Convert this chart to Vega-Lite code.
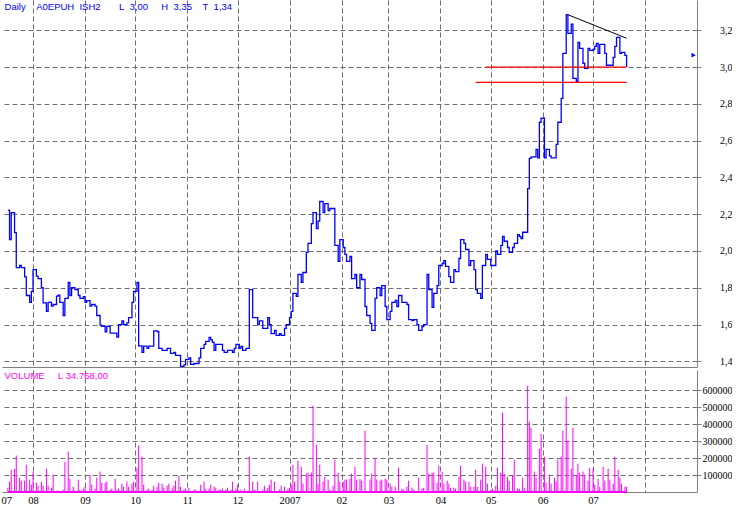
{
  "$schema": "https://vega.github.io/schema/vega-lite/v6.json",
  "padding": 0,
  "background": "white",
  "spacing": 0,
  "config": {
    "view": {"stroke": null},
    "axis": {
      "gridColor": "#6e6e6e", "gridDash": [5, 3], "gridWidth": 1,
      "domainColor": "#808080", "tickColor": "#808080",
      "labelFont": "Liberation Serif", "labelFontSize": 10, "labelColor": "#000000",
      "title": null
    }
  },
  "datasets": {
    "price": [
      {"date":"2006-07-17","close":2.222},{"date":"2006-07-18","close":2.062},{"date":"2006-07-19","close":2.209},{"date":"2006-07-21","close":2.10},{"date":"2006-07-22","close":1.91},{"date":"2006-07-24","close":1.921},{"date":"2006-07-25","close":1.91},{"date":"2006-07-27","close":1.859},{"date":"2006-07-28","close":1.758},{"date":"2006-07-30","close":1.72},{"date":"2006-07-31","close":1.78},
      {"date":"2006-08-01","close":1.899},{"date":"2006-08-03","close":1.863},{"date":"2006-08-04","close":1.85},{"date":"2006-08-06","close":1.80},{"date":"2006-08-07","close":1.718},{"date":"2006-08-09","close":1.671},{"date":"2006-08-10","close":1.72},{"date":"2006-08-12","close":1.70},{"date":"2006-08-13","close":1.709},{"date":"2006-08-15","close":1.754},{"date":"2006-08-16","close":1.76},{"date":"2006-08-17","close":1.72},{"date":"2006-08-19","close":1.649},{"date":"2006-08-20","close":1.742},{"date":"2006-08-22","close":1.829},{"date":"2006-08-23","close":1.758},{"date":"2006-08-24","close":1.80},{"date":"2006-08-26","close":1.79},{"date":"2006-08-28","close":1.758},{"date":"2006-08-29","close":1.742},{"date":"2006-08-31","close":1.752},
      {"date":"2006-09-01","close":1.72},{"date":"2006-09-02","close":1.73},{"date":"2006-09-04","close":1.70},{"date":"2006-09-05","close":1.709},{"date":"2006-09-07","close":1.70},{"date":"2006-09-08","close":1.649},{"date":"2006-09-10","close":1.597},{"date":"2006-09-11","close":1.59},{"date":"2006-09-13","close":1.56},{"date":"2006-09-14","close":1.59},{"date":"2006-09-16","close":1.553},{"date":"2006-09-20","close":1.531},{"date":"2006-09-21","close":1.60},{"date":"2006-09-23","close":1.62},{"date":"2006-09-24","close":1.60},{"date":"2006-09-26","close":1.609},{"date":"2006-09-27","close":1.638},{"date":"2006-09-29","close":1.72},{"date":"2006-09-30","close":1.78},
      {"date":"2006-10-02","close":1.829},{"date":"2006-10-03","close":1.484},{"date":"2006-10-05","close":1.448},{"date":"2006-10-06","close":1.483},{"date":"2006-10-08","close":1.47},{"date":"2006-10-09","close":1.483},{"date":"2006-10-12","close":1.566},{"date":"2006-10-14","close":1.562},{"date":"2006-10-15","close":1.47},{"date":"2006-10-17","close":1.459},{"date":"2006-10-20","close":1.47},{"date":"2006-10-22","close":1.443},{"date":"2006-10-24","close":1.448},{"date":"2006-10-25","close":1.432},{"date":"2006-10-28","close":1.372},{"date":"2006-10-30","close":1.381},{"date":"2006-10-31","close":1.41},
      {"date":"2006-11-02","close":1.419},{"date":"2006-11-03","close":1.383},{"date":"2006-11-05","close":1.388},{"date":"2006-11-08","close":1.419},{"date":"2006-11-09","close":1.47},{"date":"2006-11-11","close":1.492},{"date":"2006-11-12","close":1.508},{"date":"2006-11-14","close":1.53},{"date":"2006-11-15","close":1.517},{"date":"2006-11-16","close":1.503},{"date":"2006-11-17","close":1.459},{"date":"2006-11-18","close":1.492},{"date":"2006-11-22","close":1.459},{"date":"2006-11-23","close":1.448},{"date":"2006-11-25","close":1.459},{"date":"2006-11-28","close":1.448},{"date":"2006-11-29","close":1.47},{"date":"2006-11-30","close":1.492},
      {"date":"2006-12-02","close":1.47},{"date":"2006-12-03","close":1.481},{"date":"2006-12-04","close":1.459},{"date":"2006-12-06","close":1.47},{"date":"2006-12-08","close":1.79},{"date":"2006-12-10","close":1.638},{"date":"2006-12-13","close":1.60},{"date":"2006-12-14","close":1.62},{"date":"2006-12-16","close":1.579},{"date":"2006-12-19","close":1.638},{"date":"2006-12-20","close":1.60},{"date":"2006-12-21","close":1.551},{"date":"2006-12-23","close":1.568},{"date":"2006-12-24","close":1.541},{"date":"2006-12-26","close":1.551},{"date":"2006-12-27","close":1.541},{"date":"2006-12-29","close":1.579},{"date":"2006-12-30","close":1.60},
      {"date":"2007-01-01","close":1.638},{"date":"2007-01-02","close":1.671},{"date":"2007-01-03","close":1.769},{"date":"2007-01-05","close":1.753},{"date":"2007-01-06","close":1.872},{"date":"2007-01-08","close":1.829},{"date":"2007-01-09","close":1.883},{"date":"2007-01-11","close":1.992},{"date":"2007-01-12","close":2.041},{"date":"2007-01-14","close":2.149},{"date":"2007-01-15","close":2.209},{"date":"2007-01-17","close":2.122},{"date":"2007-01-18","close":2.162},{"date":"2007-01-19","close":2.269},{"date":"2007-01-21","close":2.209},{"date":"2007-01-22","close":2.258},{"date":"2007-01-24","close":2.22},{"date":"2007-01-25","close":2.231},{"date":"2007-01-28","close":2.03},{"date":"2007-01-30","close":1.943},{"date":"2007-01-31","close":2.062},
      {"date":"2007-02-02","close":2.019},{"date":"2007-02-03","close":1.981},{"date":"2007-02-04","close":1.943},{"date":"2007-02-06","close":1.97},{"date":"2007-02-07","close":1.85},{"date":"2007-02-09","close":1.872},{"date":"2007-02-10","close":1.80},{"date":"2007-02-12","close":1.872},{"date":"2007-02-13","close":1.845},{"date":"2007-02-15","close":1.698},{"date":"2007-02-16","close":1.649},{"date":"2007-02-18","close":1.606},{"date":"2007-02-19","close":1.568},{"date":"2007-02-21","close":1.742},{"date":"2007-02-22","close":1.80},{"date":"2007-02-24","close":1.758},{"date":"2007-02-25","close":1.812},{"date":"2007-02-27","close":1.698},{"date":"2007-02-28","close":1.627},
      {"date":"2007-03-02","close":1.671},{"date":"2007-03-03","close":1.72},{"date":"2007-03-05","close":1.731},{"date":"2007-03-06","close":1.698},{"date":"2007-03-07","close":1.758},{"date":"2007-03-09","close":1.72},{"date":"2007-03-12","close":1.709},{"date":"2007-03-13","close":1.627},{"date":"2007-03-15","close":1.622},{"date":"2007-03-16","close":1.627},{"date":"2007-03-18","close":1.60},{"date":"2007-03-19","close":1.568},{"date":"2007-03-21","close":1.589},{"date":"2007-03-22","close":1.60},{"date":"2007-03-24","close":1.872},{"date":"2007-03-25","close":1.79},{"date":"2007-03-27","close":1.693},{"date":"2007-03-28","close":1.769},{"date":"2007-03-30","close":1.812},{"date":"2007-03-31","close":1.921},
      {"date":"2007-04-02","close":1.932},{"date":"2007-04-03","close":1.948},{"date":"2007-04-04","close":1.916},{"date":"2007-04-06","close":1.861},{"date":"2007-04-07","close":1.829},{"date":"2007-04-09","close":1.899},{"date":"2007-04-10","close":1.888},{"date":"2007-04-12","close":1.959},{"date":"2007-04-13","close":2.062},{"date":"2007-04-15","close":2.041},{"date":"2007-04-16","close":2.008},{"date":"2007-04-18","close":1.921},{"date":"2007-04-19","close":1.948},{"date":"2007-04-21","close":1.899},{"date":"2007-04-22","close":1.79},{"date":"2007-04-23","close":1.769},{"date":"2007-04-25","close":1.742},{"date":"2007-04-26","close":1.921},{"date":"2007-04-28","close":1.981},{"date":"2007-04-29","close":1.954},
      {"date":"2007-05-01","close":1.921},{"date":"2007-05-04","close":2.0},{"date":"2007-05-05","close":1.981},{"date":"2007-05-07","close":2.03},{"date":"2007-05-08","close":2.079},{"date":"2007-05-09","close":2.053},{"date":"2007-05-11","close":2.019},{"date":"2007-05-12","close":1.992},{"date":"2007-05-14","close":2.019},{"date":"2007-05-15","close":2.041},{"date":"2007-05-17","close":2.089},{"date":"2007-05-18","close":2.079},{"date":"2007-05-19","close":2.068},{"date":"2007-05-20","close":2.102},{"date":"2007-05-23","close":2.339},{"date":"2007-05-24","close":2.504},{"date":"2007-05-25","close":2.51},{"date":"2007-05-26","close":2.512},{"date":"2007-05-28","close":2.553},{"date":"2007-05-29","close":2.506},{"date":"2007-05-30","close":2.70},{"date":"2007-05-31","close":2.722},
      {"date":"2007-06-02","close":2.506},{"date":"2007-06-03","close":2.553},{"date":"2007-06-05","close":2.517},{"date":"2007-06-06","close":2.506},{"date":"2007-06-09","close":2.58},{"date":"2007-06-10","close":2.70},{"date":"2007-06-12","close":2.83},{"date":"2007-06-13","close":3.075},{"date":"2007-06-15","close":3.285},{"date":"2007-06-16","close":3.184},{"date":"2007-06-18","close":3.233},{"date":"2007-06-19","close":2.939},{"date":"2007-06-21","close":2.923},{"date":"2007-06-22","close":3.135},{"date":"2007-06-23","close":3.102},{"date":"2007-06-25","close":3.021},{"date":"2007-06-26","close":2.993},{"date":"2007-06-28","close":3.102},{"date":"2007-06-29","close":3.091},
      {"date":"2007-07-01","close":3.097},{"date":"2007-07-02","close":3.113},{"date":"2007-07-03","close":3.129},{"date":"2007-07-04","close":3.075},{"date":"2007-07-05","close":3.124},{"date":"2007-07-08","close":3.075},{"date":"2007-07-09","close":3.01},{"date":"2007-07-13","close":3.053},{"date":"2007-07-14","close":3.113},{"date":"2007-07-15","close":3.162},{"date":"2007-07-17","close":3.075},{"date":"2007-07-18","close":3.08},{"date":"2007-07-20","close":3.064},{"date":"2007-07-21","close":3.0}
    ],
    "volume": [
      {"date":"2006-07-17","volume":25000},{"date":"2006-07-18","volume":61000},{"date":"2006-07-19","volume":131000},{"date":"2006-07-21","volume":137000},{"date":"2006-07-22","volume":214000},{"date":"2006-07-24","volume":84000},{"date":"2006-07-25","volume":67000},{"date":"2006-07-27","volume":67000},{"date":"2006-07-28","volume":161000},{"date":"2006-07-30","volume":73000},{"date":"2006-07-31","volume":43000},
      {"date":"2006-08-01","volume":120000},{"date":"2006-08-03","volume":55000},{"date":"2006-08-04","volume":37000},{"date":"2006-08-06","volume":61000},{"date":"2006-08-07","volume":37000},{"date":"2006-08-09","volume":137000},{"date":"2006-08-10","volume":37000},{"date":"2006-08-12","volume":25000},{"date":"2006-08-13","volume":102000},{"date":"2006-08-15","volume":8000},{"date":"2006-08-16","volume":8000},{"date":"2006-08-19","volume":14000},{"date":"2006-08-20","volume":178000},{"date":"2006-08-22","volume":237000},{"date":"2006-08-23","volume":78000},{"date":"2006-08-25","volume":31000},{"date":"2006-08-26","volume":8000},{"date":"2006-08-28","volume":73000},{"date":"2006-08-29","volume":14000},{"date":"2006-08-31","volume":20000},
      {"date":"2006-09-01","volume":31000},{"date":"2006-09-04","volume":102000},{"date":"2006-09-05","volume":43000},{"date":"2006-09-07","volume":20000},{"date":"2006-09-08","volume":84000},{"date":"2006-09-10","volume":120000},{"date":"2006-09-11","volume":55000},{"date":"2006-09-13","volume":55000},{"date":"2006-09-14","volume":61000},{"date":"2006-09-16","volume":14000},{"date":"2006-09-17","volume":20000},{"date":"2006-09-19","volume":78000},{"date":"2006-09-20","volume":14000},{"date":"2006-09-21","volume":20000},{"date":"2006-09-23","volume":49000},{"date":"2006-09-24","volume":31000},{"date":"2006-09-26","volume":61000},{"date":"2006-09-27","volume":31000},{"date":"2006-09-29","volume":49000},{"date":"2006-09-30","volume":61000},
      {"date":"2006-10-02","volume":143000},{"date":"2006-10-03","volume":273000},{"date":"2006-10-05","volume":208000},{"date":"2006-10-06","volume":43000},{"date":"2006-10-08","volume":14000},{"date":"2006-10-09","volume":20000},{"date":"2006-10-11","volume":14000},{"date":"2006-10-12","volume":37000},{"date":"2006-10-14","volume":31000},{"date":"2006-10-15","volume":55000},{"date":"2006-10-17","volume":49000},{"date":"2006-10-18","volume":25000},{"date":"2006-10-20","volume":37000},{"date":"2006-10-21","volume":49000},{"date":"2006-10-23","volume":20000},{"date":"2006-10-24","volume":37000},{"date":"2006-10-25","volume":67000},{"date":"2006-10-27","volume":96000},{"date":"2006-10-28","volume":31000},{"date":"2006-10-30","volume":14000},{"date":"2006-10-31","volume":20000},
      {"date":"2006-11-02","volume":25000},{"date":"2006-11-05","volume":14000},{"date":"2006-11-06","volume":14000},{"date":"2006-11-09","volume":43000},{"date":"2006-11-11","volume":61000},{"date":"2006-11-12","volume":20000},{"date":"2006-11-14","volume":20000},{"date":"2006-11-15","volume":43000},{"date":"2006-11-17","volume":31000},{"date":"2006-11-18","volume":25000},{"date":"2006-11-20","volume":14000},{"date":"2006-11-21","volume":14000},{"date":"2006-11-22","volume":20000},{"date":"2006-11-24","volume":14000},{"date":"2006-11-25","volume":25000},{"date":"2006-11-27","volume":14000},{"date":"2006-11-28","volume":61000},{"date":"2006-11-30","volume":20000},
      {"date":"2006-12-01","volume":43000},{"date":"2006-12-03","volume":14000},{"date":"2006-12-05","volume":20000},{"date":"2006-12-08","volume":208000},{"date":"2006-12-10","volume":61000},{"date":"2006-12-11","volume":14000},{"date":"2006-12-13","volume":61000},{"date":"2006-12-16","volume":14000},{"date":"2006-12-17","volume":37000},{"date":"2006-12-19","volume":25000},{"date":"2006-12-20","volume":43000},{"date":"2006-12-21","volume":73000},{"date":"2006-12-23","volume":61000},{"date":"2006-12-26","volume":14000},{"date":"2006-12-27","volume":37000},{"date":"2006-12-29","volume":31000},{"date":"2006-12-31","volume":20000},
      {"date":"2007-01-01","volume":25000},{"date":"2007-01-02","volume":43000},{"date":"2007-01-03","volume":161000},{"date":"2007-01-04","volume":61000},{"date":"2007-01-06","volume":184000},{"date":"2007-01-08","volume":149000},{"date":"2007-01-09","volume":49000},{"date":"2007-01-11","volume":108000},{"date":"2007-01-12","volume":114000},{"date":"2007-01-14","volume":114000},{"date":"2007-01-15","volume":508000},{"date":"2007-01-17","volume":278000},{"date":"2007-01-18","volume":49000},{"date":"2007-01-19","volume":161000},{"date":"2007-01-21","volume":61000},{"date":"2007-01-22","volume":88000},{"date":"2007-01-24","volume":73000},{"date":"2007-01-25","volume":14000},{"date":"2007-01-27","volume":37000},{"date":"2007-01-28","volume":190000},{"date":"2007-01-30","volume":114000},{"date":"2007-01-31","volume":61000},
      {"date":"2007-02-02","volume":61000},{"date":"2007-02-03","volume":73000},{"date":"2007-02-04","volume":73000},{"date":"2007-02-06","volume":78000},{"date":"2007-02-07","volume":108000},{"date":"2007-02-09","volume":149000},{"date":"2007-02-10","volume":73000},{"date":"2007-02-12","volume":78000},{"date":"2007-02-13","volume":67000},{"date":"2007-02-15","volume":361000},{"date":"2007-02-18","volume":73000},{"date":"2007-02-19","volume":108000},{"date":"2007-02-21","volume":200000},{"date":"2007-02-22","volume":73000},{"date":"2007-02-24","volume":67000},{"date":"2007-02-25","volume":73000},{"date":"2007-02-27","volume":78000},{"date":"2007-02-28","volume":73000},
      {"date":"2007-03-02","volume":49000},{"date":"2007-03-03","volume":31000},{"date":"2007-03-05","volume":31000},{"date":"2007-03-07","volume":143000},{"date":"2007-03-09","volume":20000},{"date":"2007-03-10","volume":14000},{"date":"2007-03-12","volume":31000},{"date":"2007-03-13","volume":67000},{"date":"2007-03-15","volume":25000},{"date":"2007-03-16","volume":14000},{"date":"2007-03-19","volume":84000},{"date":"2007-03-21","volume":20000},{"date":"2007-03-22","volume":25000},{"date":"2007-03-24","volume":278000},{"date":"2007-03-25","volume":108000},{"date":"2007-03-27","volume":114000},{"date":"2007-03-28","volume":114000},{"date":"2007-03-30","volume":55000},{"date":"2007-03-31","volume":155000},
      {"date":"2007-04-02","volume":120000},{"date":"2007-04-03","volume":49000},{"date":"2007-04-05","volume":67000},{"date":"2007-04-06","volume":49000},{"date":"2007-04-07","volume":25000},{"date":"2007-04-09","volume":25000},{"date":"2007-04-10","volume":20000},{"date":"2007-04-12","volume":90000},{"date":"2007-04-13","volume":155000},{"date":"2007-04-15","volume":73000},{"date":"2007-04-16","volume":61000},{"date":"2007-04-18","volume":61000},{"date":"2007-04-19","volume":31000},{"date":"2007-04-21","volume":31000},{"date":"2007-04-22","volume":131000},{"date":"2007-04-23","volume":31000},{"date":"2007-04-25","volume":73000},{"date":"2007-04-26","volume":167000},{"date":"2007-04-28","volume":149000},{"date":"2007-04-29","volume":49000},
      {"date":"2007-05-01","volume":14000},{"date":"2007-05-02","volume":20000},{"date":"2007-05-04","volume":37000},{"date":"2007-05-05","volume":143000},{"date":"2007-05-07","volume":114000},{"date":"2007-05-08","volume":467000},{"date":"2007-05-09","volume":108000},{"date":"2007-05-11","volume":90000},{"date":"2007-05-12","volume":67000},{"date":"2007-05-14","volume":96000},{"date":"2007-05-15","volume":190000},{"date":"2007-05-17","volume":20000},{"date":"2007-05-18","volume":20000},{"date":"2007-05-20","volume":84000},{"date":"2007-05-21","volume":25000},{"date":"2007-05-23","volume":625000},{"date":"2007-05-24","volume":414000},{"date":"2007-05-25","volume":378000},{"date":"2007-05-27","volume":120000},{"date":"2007-05-28","volume":84000},{"date":"2007-05-30","volume":255000},{"date":"2007-05-31","volume":343000},
      {"date":"2007-06-02","volume":208000},{"date":"2007-06-03","volume":55000},{"date":"2007-06-05","volume":102000},{"date":"2007-06-06","volume":49000},{"date":"2007-06-08","volume":84000},{"date":"2007-06-09","volume":61000},{"date":"2007-06-10","volume":190000},{"date":"2007-06-12","volume":208000},{"date":"2007-06-13","volume":361000},{"date":"2007-06-15","volume":561000},{"date":"2007-06-16","volume":302000},{"date":"2007-06-18","volume":137000},{"date":"2007-06-19","volume":378000},{"date":"2007-06-21","volume":102000},{"date":"2007-06-22","volume":167000},{"date":"2007-06-23","volume":114000},{"date":"2007-06-25","volume":120000},{"date":"2007-06-26","volume":102000},{"date":"2007-06-28","volume":67000},{"date":"2007-06-29","volume":143000},
      {"date":"2007-07-01","volume":137000},{"date":"2007-07-02","volume":43000},{"date":"2007-07-04","volume":78000},{"date":"2007-07-05","volume":31000},{"date":"2007-07-07","volume":149000},{"date":"2007-07-08","volume":67000},{"date":"2007-07-10","volume":137000},{"date":"2007-07-11","volume":73000},{"date":"2007-07-13","volume":49000},{"date":"2007-07-14","volume":208000},{"date":"2007-07-16","volume":131000},{"date":"2007-07-17","volume":84000},{"date":"2007-07-18","volume":49000},{"date":"2007-07-20","volume":31000},{"date":"2007-07-21","volume":31000}
    ],
    "levels": [
      {"start":"2007-04-28","end":"2007-07-21","level":3.0},
      {"start":"2007-04-22","end":"2007-07-21","level":2.917}
    ],
    "trend": [
      {"start":"2007-06-16","end":"2007-07-21","from":3.285,"to":3.157}
    ],
    "last": [
      {"date":"2007-08-30","close":3.065}
    ]
  },
  "vconcat": [
    {
      "width": 695,
      "height": 367,
      "layer": [
        {
          "data": {"name": "price"},
          "mark": {"type": "line", "interpolate": "step-after", "color": "#0000ff", "strokeWidth": 1.3},
          "encoding": {
            "x": {
              "field": "date", "type": "temporal",
              "scale": {"type": "utc", "domain": [{"year": 2006, "month": 7, "date": 13, "hours": 12, "utc": true}, {"year": 2007, "month": 9, "date": 1, "utc": true}]},
              "axis": {
                "orient": "bottom", "labels": false, "ticks": false, "domain": true, "grid": true, "tickCount": 20,
                "values": [
                  {"year": 2006, "month": 8, "date": 1, "utc": true},{"year": 2006, "month": 9, "date": 1, "utc": true},{"year": 2006, "month": 10, "date": 1, "utc": true},{"year": 2006, "month": 11, "date": 1, "utc": true},{"year": 2006, "month": 12, "date": 1, "utc": true},
                  {"year": 2007, "month": 1, "date": 1, "utc": true},{"year": 2007, "month": 2, "date": 1, "utc": true},{"year": 2007, "month": 3, "date": 1, "utc": true},{"year": 2007, "month": 4, "date": 1, "utc": true},{"year": 2007, "month": 5, "date": 1, "utc": true},{"year": 2007, "month": 6, "date": 1, "utc": true},{"year": 2007, "month": 7, "date": 1, "utc": true},{"year": 2007, "month": 8, "date": 1, "utc": true}
                ]
              }
            },
            "y": {
              "field": "close", "type": "quantitative",
              "scale": {"domain": [1.369, 3.365], "nice": false, "zero": false},
              "axis": {
                "orient": "right", "values": [1.4, 1.6, 1.8, 2.0, 2.2, 2.4, 2.6, 2.8, 3.0, 3.2], "tickCount": 12,
                "labelExpr": "replace(format(datum.value, '.1f'), '.', ',')",
                "labelOverlap": false,
                "grid": true, "tickSize": 4, "labelAlign": "right", "labelPadding": 31, "labelBaseline": "middle", "domain": true
              }
            }
          }
        },
        {
          "data": {"name": "levels"},
          "mark": {"type": "rule", "color": "#ff0000", "strokeWidth": 1.2},
          "encoding": {
            "x": {"field": "start", "type": "temporal"},
            "x2": {"field": "end"},
            "y": {"field": "level", "type": "quantitative"}
          }
        },
        {
          "data": {"name": "trend"},
          "mark": {"type": "rule", "color": "#000000", "strokeWidth": 1},
          "encoding": {
            "x": {"field": "start", "type": "temporal"},
            "x2": {"field": "end"},
            "y": {"field": "from", "type": "quantitative"},
            "y2": {"field": "to"}
          }
        },
        {
          "data": {"name": "last"},
          "mark": {"type": "point", "shape": "triangle-right", "filled": true, "color": "#0000ff", "size": 24, "opacity": 1},
          "encoding": {
            "x": {"field": "date", "type": "temporal"},
            "y": {"field": "close", "type": "quantitative"}
          }
        },
        {
          "data": {"values": [{}]},
          "mark": {
            "type": "text", "align": "left", "baseline": "alphabetic",
            "font": "Liberation Sans", "fontSize": 9.5, "color": "#0000ff",
            "text": "Daily\u00a0\u00a0\u00a0\u00a0A0EPUH\u00a0\u00a0ISH2\u00a0\u00a0\u00a0\u00a0\u00a0\u00a0\u00a0L\u00a0\u00a03,00\u00a0\u00a0\u00a0\u00a0\u00a0H\u00a0\u00a03,35\u00a0\u00a0\u00a0\u00a0T\u00a0\u00a01,34"
          },
          "encoding": {
            "x": {"datum": {"year": 2006, "month": 7, "date": 15, "utc": true}, "type": "temporal"},
            "y": {"datum": 3.311, "type": "quantitative"}
          }
        }
      ]
    },
    {
      "width": 695,
      "height": 122,
      "layer": [
        {
          "data": {"name": "volume"},
          "mark": {"type": "rule", "color": "#ff00ff", "strokeWidth": 1},
          "encoding": {
            "x": {
              "field": "date", "type": "temporal",
              "scale": {"type": "utc", "domain": [{"year": 2006, "month": 7, "date": 13, "hours": 12, "utc": true}, {"year": 2007, "month": 9, "date": 1, "utc": true}]},
              "axis": {
                "orient": "bottom", "ticks": false, "domain": true, "grid": true, "labelPadding": 3, "tickCount": 20,
                "labelFontSize": 10.5, "labelOverlap": false,
                "gridOpacity": {"condition": {"test": "utcyear(datum.value) == 2006 && utcmonth(datum.value) == 6", "value": 0}, "value": 1},
                "labelExpr": "utcyear(datum.value) == 2007 && utcmonth(datum.value) == 7 ? '' : (utcmonth(datum.value) == 0 ? utcFormat(datum.value, '%Y') : utcFormat(datum.value, '%m'))",
                "values": [
                  {"year": 2006, "month": 7, "date": 16, "utc": true},
                  {"year": 2006, "month": 8, "date": 1, "utc": true},{"year": 2006, "month": 9, "date": 1, "utc": true},{"year": 2006, "month": 10, "date": 1, "utc": true},{"year": 2006, "month": 11, "date": 1, "utc": true},{"year": 2006, "month": 12, "date": 1, "utc": true},
                  {"year": 2007, "month": 1, "date": 1, "utc": true},{"year": 2007, "month": 2, "date": 1, "utc": true},{"year": 2007, "month": 3, "date": 1, "utc": true},{"year": 2007, "month": 4, "date": 1, "utc": true},{"year": 2007, "month": 5, "date": 1, "utc": true},{"year": 2007, "month": 6, "date": 1, "utc": true},{"year": 2007, "month": 7, "date": 1, "utc": true},{"year": 2007, "month": 8, "date": 1, "utc": true}
                ]
              }
            },
            "y": {
              "field": "volume", "type": "quantitative",
              "scale": {"domain": [0, 717647], "nice": false, "zero": true},
              "axis": {
                "orient": "right", "values": [100000, 200000, 300000, 400000, 500000, 600000], "format": "d", "tickCount": 10,
                "labelOverlap": false,
                "grid": true, "tickSize": 4, "labelAlign": "right", "labelPadding": 31, "labelBaseline": "middle", "domain": true
              }
            },
            "y2": {"datum": 0}
          }
        },
        {
          "data": {"name": "volume"},
          "mark": {"type": "rule", "color": "#ff00ff", "strokeWidth": 2},
          "encoding": {
            "x": {"aggregate": "min", "field": "date", "type": "temporal"},
            "x2": {"aggregate": "max", "field": "date"},
            "y": {"datum": 0, "type": "quantitative"}
          }
        },
        {
          "data": {"values": [{}]},
          "mark": {
            "type": "text", "align": "left", "baseline": "alphabetic",
            "font": "Liberation Sans", "fontSize": 9.5, "color": "#ff00ff",
            "text": "VOLUME\u00a0\u00a0\u00a0\u00a0\u00a0L\u00a034.768,00"
          },
          "encoding": {
            "x": {"datum": {"year": 2006, "month": 7, "date": 15, "utc": true}, "type": "temporal"},
            "y": {"datum": 664700, "type": "quantitative"}
          }
        }
      ]
    }
  ]
}
